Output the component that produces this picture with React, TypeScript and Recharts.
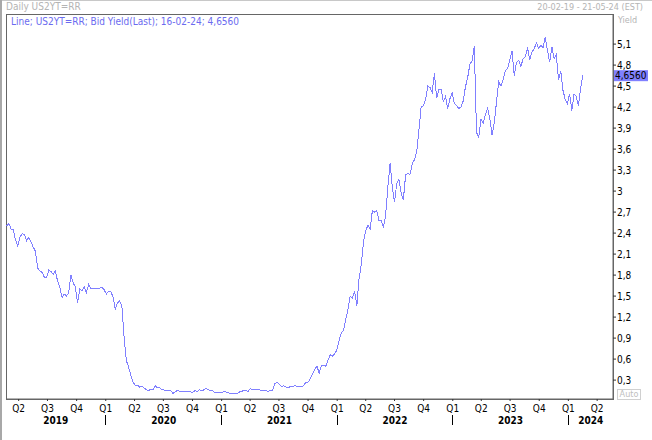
import React from "react";
import { LineChart, Line, XAxis, YAxis, ReferenceArea, ReferenceLine } from "recharts";

const DAY = 86400000;
const START = Date.UTC(2019, 1, 20);
const END = Date.UTC(2024, 4, 21);
const FIRST_CLOSE = Date.UTC(2019, 1, 22); // weekly Friday closes from here

// US 2Y bid yield, weekly closes
const yields2019 = [
  2.5, 2.54, 2.46, 2.45, 2.3, 2.22, 2.34, 2.39, 2.38, 2.29, 2.34, 2.27, 2.2, 2.14, 1.9,
  1.86, 1.84, 1.77, 1.76, 1.87, 1.85, 1.81, 1.86, 1.71, 1.63, 1.48, 1.53, 1.5, 1.55, 1.8,
  1.69, 1.63, 1.4, 1.6, 1.58, 1.63, 1.55, 1.67, 1.61, 1.6, 1.61, 1.61, 1.61, 1.63, 1.59,
];
const yields2020 = [
  1.53, 1.57, 1.56, 1.49, 1.31, 1.4, 1.43, 1.35, 0.91, 0.58, 0.49, 0.37, 0.27, 0.23, 0.23,
  0.2, 0.21, 0.19, 0.16, 0.15, 0.17, 0.16, 0.22, 0.19, 0.19, 0.16, 0.16, 0.15, 0.15, 0.15,
  0.11, 0.13, 0.15, 0.14, 0.14, 0.14, 0.13, 0.14, 0.13, 0.13, 0.15, 0.14, 0.16, 0.15, 0.16,
  0.18, 0.16, 0.15, 0.15, 0.12, 0.12, 0.12,
];
const yields2021 = [
  0.12, 0.14, 0.13, 0.12, 0.11, 0.11, 0.11, 0.11, 0.13, 0.14, 0.15, 0.15, 0.14, 0.18, 0.16,
  0.16, 0.16, 0.16, 0.15, 0.15, 0.15, 0.14, 0.15, 0.15, 0.25, 0.27, 0.24, 0.21, 0.22, 0.2,
  0.19, 0.21, 0.21, 0.22, 0.21, 0.21, 0.21, 0.22, 0.27, 0.27, 0.32, 0.39, 0.45, 0.5, 0.4,
  0.51, 0.51, 0.5, 0.59, 0.66, 0.64, 0.68, 0.73,
];
const yields2022 = [
  0.87, 0.97, 1.01, 1.17, 1.31, 1.5, 1.47, 1.57, 1.36, 1.75, 1.95, 2.27, 2.44, 2.51, 2.46,
  2.72, 2.7, 2.72, 2.58, 2.58, 2.48, 2.66, 3.06, 3.4, 3.05, 2.84, 3.11, 3.17, 2.97, 2.88,
  3.23, 3.25, 3.24, 3.39, 3.45, 3.56, 3.87, 4.2, 4.22, 4.31, 4.5, 4.48, 4.41, 4.68, 4.33,
  4.45, 4.46, 4.28, 4.35, 4.18, 4.32, 4.41,
];
const yields2023 = [
  4.25, 4.22, 4.18, 4.2, 4.29, 4.49, 4.62, 4.81, 4.86, 5.07, 3.84, 3.77, 4.03, 3.97, 4.09,
  4.18, 4.04, 3.8, 3.98, 4.27, 4.56, 4.5, 4.59, 4.72, 4.75, 4.87, 5.0, 4.65, 4.84, 4.87,
  4.78, 4.89, 4.92, 5.05, 4.87, 4.99, 5.03, 5.12, 5.04, 5.08, 5.05, 5.2, 5.01, 4.84, 5.06,
  4.89, 4.95, 4.59, 4.72, 4.44, 4.31, 4.25,
];
const yields2024 = [4.39, 4.15, 4.39, 4.35, 4.22, 4.48, 4.656];

const yTicks = [0.3, 0.6, 0.9, 1.2, 1.5, 1.8, 2.1, 2.4, 2.7, 3, 3.3, 3.6, 3.9, 4.2, 4.5, 4.8, 5.1];
const years = [2019, 2020, 2021, 2022, 2023, 2024];

const dayOf = (t: number) => (t - START) / DAY;
const lastDay = dayOf(END);

const allYields = [...yields2019, ...yields2020, ...yields2021, ...yields2022, ...yields2023, ...yields2024];
const data = allYields.map((v, i) => ({ d: dayOf(FIRST_CLOSE) + i * 7, v }));
const lastValue = allYields[allYields.length - 1];

const quarterTicks: number[] = [];
years.forEach((y) => {
  for (let q = 0; q < 4; q++) {
    const t = Date.UTC(y, q * 3, 1);
    if (t > START && t <= END) quarterTicks.push(dayOf(t));
  }
});
const yearTicks = years.map((y) => {
  const a = Math.max(START, Date.UTC(y, 0, 1));
  const b = Math.min(END, Date.UTC(y + 1, 0, 1));
  return (dayOf(a) + dayOf(b)) / 2;
});

const FONT = "Tahoma, 'DejaVu Sans Condensed', 'Liberation Sans', sans-serif";
const LINE = "#8080ff";
const Y_MIN = 0.03;
const Y_MAX = 5.53;

const fmt = (v: number) => String(Number(v.toFixed(4))).replace(".", ",");

function QuarterTick({ x, y, payload }: any) {
  const q = Math.floor(new Date(START + payload.value * DAY).getUTCMonth() / 3);
  return (
    <g>
      <text x={x} y={y + 9} textAnchor="middle" fontSize={10} fontFamily={FONT} fill="#000">
        {"Q" + (q + 1)}
      </text>
      {q === 0 && <line x1={x} x2={x} y1={y + 12} y2={y + 22} stroke="#000" shapeRendering="crispEdges" />}
    </g>
  );
}

function YearTick({ x, y, payload }: any) {
  const i = yearTicks.indexOf(payload.value);
  return (
    <text x={x} y={y + 9} textAnchor="middle" fontSize={10} fontWeight="bold" fontFamily={FONT} fill="#000">
      {years[i]}
    </text>
  );
}

function LastTag({ viewBox }: any) {
  if (!viewBox) return null;
  const x = viewBox.x + viewBox.width;
  const y = viewBox.y;
  return (
    <g>
      <rect x={x + 1} y={y - 5} width={34} height={11} fill={LINE} />
      <text x={x + 2} y={y + 4} fontSize={10} fontFamily={FONT} fill="#000">
        {lastValue.toFixed(4).replace(".", ",")}
      </text>
    </g>
  );
}

export default function App() {
  return (
    <div style={{ position: "absolute", left: 0, top: 0, width: 652, height: 440, background: "#fff", fontFamily: FONT }}>
      <div style={{ position: "absolute", left: 0, top: 0, width: 652, height: 1, background: "#c8c8c8" }} />
      <div style={{ position: "absolute", left: 0, top: 0, width: 2, height: 440, background: "#a8a8a8" }} />
      <div style={{ position: "absolute", left: 6, top: 1, fontSize: 10, color: "#b4b4b4", lineHeight: "12px" }}>
        Daily US2YT=RR
      </div>
      <div style={{ position: "absolute", right: 9, top: 1, fontSize: 9, color: "#b4b4b4", lineHeight: "12px" }}>
        20-02-19 - 21-05-24 (EST)
      </div>
      <div style={{ position: "absolute", left: 618, top: 14, fontSize: 9, color: "#b4b4b4", lineHeight: "12px" }}>
        Yield
      </div>
      <div style={{ position: "absolute", left: 11, top: 16, fontSize: 10, color: "#6b6bf0", lineHeight: "12px", zIndex: 2 }}>
        Line; US2YT=RR; Bid Yield(Last); 16-02-24; 4,6560
      </div>
      <div
        style={{
          position: "absolute", left: 617, top: 389, width: 22, height: 9, border: "1px solid #d0d0d0",
          fontSize: 9, lineHeight: "9px", color: "#c0c0c0", textAlign: "center", zIndex: 2,
        }}
      >
        Auto
      </div>
      <LineChart width={652} height={440} data={data} margin={{ top: 14, left: 6, right: 3, bottom: 3 }}>
        <XAxis
          xAxisId="q"
          type="number"
          dataKey="d"
          domain={[0, lastDay]}
          ticks={quarterTicks}
          tick={<QuarterTick />}
          tickSize={2}
          tickLine={{ stroke: "#333" }}
          axisLine={{ stroke: "#666" }}
          height={14}
          interval={0}
          allowDataOverflow
        />
        <XAxis
          xAxisId="yr"
          type="number"
          dataKey="d"
          domain={[0, lastDay]}
          ticks={yearTicks}
          tick={<YearTick />}
          tickLine={false}
          axisLine={false}
          tickSize={0}
          height={24}
          interval={0}
          allowDataOverflow
        />
        <YAxis
          orientation="right"
          domain={[Y_MIN, Y_MAX]}
          ticks={yTicks}
          tickFormatter={fmt}
          tickSize={3}
          tickMargin={1}
          tickLine={{ stroke: "#333" }}
          axisLine={{ stroke: "#666" }}
          tick={{ fontSize: 10, fill: "#000", fontFamily: FONT }}
          width={36}
          interval={0}
          allowDataOverflow
        />
        <ReferenceArea
          xAxisId="q"
          x1={0}
          x2={lastDay}
          y1={Y_MIN}
          y2={Y_MAX}
          fill="none"
          stroke="#666"
          ifOverflow="visible"
          shapeRendering="crispEdges"
        />
        <Line
          xAxisId="q"
          type="linear"
          dataKey="v"
          stroke={LINE}
          strokeWidth={1}
          dot={false}
          shapeRendering="crispEdges"
          isAnimationActive={false}
        />
        <ReferenceLine xAxisId="q" y={lastValue} stroke="none" ifOverflow="visible" label={<LastTag />} />
      </LineChart>
    </div>
  );
}
